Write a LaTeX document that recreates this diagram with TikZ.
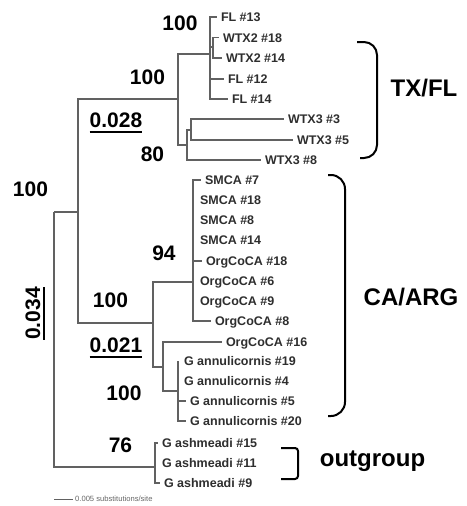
\documentclass[tikz,border=0pt]{standalone}
\usepackage{fontspec}
\setmainfont{Liberation Sans}
\begin{document}
\begin{tikzpicture}[x=1pt,y=-1pt,
  br/.style={draw=black!62,line width=1.2pt},
  lf/.style={anchor=west,inner sep=0pt,outer sep=0pt,text height=9pt,text depth=0pt,
     text=black!82,font=\fontsize{12.5}{12.5}\selectfont\bfseries},
  tk/.style={br,shorten >=4pt},
  bs/.style={inner sep=0pt,font=\fontsize{21}{21}\selectfont\bfseries},
  grp/.style={anchor=base,inner sep=0pt,font=\fontsize{24}{24}\selectfont\bfseries},
  brk/.style={draw=black,line width=2pt},
  ul/.style={draw=black,line width=2pt}]
\useasboundingbox (0,0) rectangle (466,506);
% internal nodes
\coordinate (R) at (54,212);
\coordinate (I) at (78,212);
\coordinate (T) at (178,99);
\coordinate (F) at (210,54);
\coordinate (W2) at (213,47);
\coordinate (X) at (187,145);
\coordinate (X2) at (191,130);
\coordinate (C) at (153,323);
\coordinate (S) at (193,282);
\coordinate (G) at (163,367);
\coordinate (GA) at (178,391);
\coordinate (O) at (155,467);
% leaves
\node[lf] (l13) at (221,17) {FL \#13};
\node[lf] (w218) at (223,37.5) {WTX2 \#18};
\node[lf] (w214) at (226,58) {WTX2 \#14};
\node[lf] (l12) at (228,79) {FL \#12};
\node[lf] (l14) at (232,99) {FL \#14};
\node[lf] (w33) at (288,119) {WTX3 \#3};
\node[lf] (w35) at (297,140) {WTX3 \#5};
\node[lf] (w38) at (265,160) {WTX3 \#8};
\node[lf] (s7) at (205,180) {SMCA \#7};
\node[lf] (s18) at (200,200) {SMCA \#18};
\node[lf] (s8) at (200,220) {SMCA \#8};
\node[lf] (s14) at (200,240) {SMCA \#14};
\node[lf] (o18) at (206,261) {OrgCoCA \#18};
\node[lf] (o6) at (200,281) {OrgCoCA \#6};
\node[lf] (o9) at (200,301) {OrgCoCA \#9};
\node[lf] (o8) at (215,321) {OrgCoCA \#8};
\node[lf] (o16) at (226,342) {OrgCoCA \#16};
\node[lf] (a19) at (184,361) {G annulicornis \#19};
\node[lf] (a4) at (184,381) {G annulicornis \#4};
\node[lf] (a5) at (190,401) {G annulicornis \#5};
\node[lf] (a20) at (190,421) {G annulicornis \#20};
\node[lf] (g15) at (162,443) {G ashmeadi \#15};
\node[lf] (g11) at (162,463) {G ashmeadi \#11};
\node[lf] (g9) at (164,483) {G ashmeadi \#9};
% branches
\draw[br] (R) |- (I);
\draw[br] (R) |- (O);
\draw[br] (I) |- (T);
\draw[br] (I) |- (C);
\draw[br] (T) |- (F);
\draw[br] (T) |- (X);
\draw[tk] (F) |- (l13.west);
\draw[br] (F) |- (W2);
\draw[tk] (W2) |- (w218.west);
\draw[tk] (W2) |- (w214.west);
\draw[tk] (F) |- (l12.west);
\draw[tk] (F) |- (l14.west);
\draw[br] (X) |- (X2);
\draw[tk] (X2) |- (w33.west);
\draw[tk] (X2) |- (w35.west);
\draw[tk] (X) |- (w38.west);
\draw[br] (C) |- (S);
\draw[br] (C) |- (G);
\draw[tk] (S) |- (s7.west);
\draw[tk] (S) |- (o18.west);
\draw[tk] (S) |- (o8.west);
\draw[tk] (G) |- (o16.west);
\draw[br] (G) |- (GA);
\draw[br] (GA) -- (GA |- a19.west);
\draw[tk] (GA) |- (a5.west);
\draw[tk] (GA) |- (a20.west);
\draw[tk] (O) |- (g15.west);
\draw[tk] (O) |- (g9.west);
% support values
\node[bs] (b1) at (180,23) {100};
\node[bs] (b2) at (147.5,77) {100};
\node[bs] (d28) at (116,120.5) {0.028};
\draw[ul] ([yshift=-4pt]d28.south west) -- ([yshift=-4pt]d28.south east);
\node[bs] (b3) at (152.5,154) {80};
\node[bs] (b4) at (30.5,189.5) {100};
\node[bs] (b5) at (164,253.5) {94};
\node[bs] (b6) at (110.5,300.5) {100};
\node[bs] (d21) at (116,345) {0.021};
\draw[ul] ([yshift=-4pt]d21.south west) -- ([yshift=-4pt]d21.south east);
\node[bs] (b7) at (124,393) {100};
\node[bs] (b8) at (120.5,445.5) {76};
\node[bs,rotate=90] (d34) at (33,313.5) {0.034};
\draw[ul] ([xshift=3pt]d34.south west) -- ([xshift=3pt]d34.south east);
% brackets
\draw[brk,rounded corners=13pt] (357,42) -- (377,42) -- (377,158) -- (360,158);
\draw[brk,rounded corners=14pt] (328,175) -- (345,175) -- (345,416) -- (328,416);
\draw[brk,rounded corners=3pt] (281,448) -- (298,448) -- (298,479) -- (281,479);
\node[grp] (tx) at (424,96.5) {TX/FL};
\node[grp] (ca) at (411,305.5) {CA/ARG};
\node[grp] (og) at (372.5,466) {outgroup};
% scale bar
\coordinate (sb1) at (54,499);
\coordinate (sb2) at (73,499);
\draw[br,line width=1pt] (sb1) -- (sb2);
\node[anchor=west,inner sep=0pt,text=black!60,font=\fontsize{7.6}{7.6}\selectfont] (sbt) at (75,499) {0.005 substitutions/site};
\end{tikzpicture}
\end{document}
